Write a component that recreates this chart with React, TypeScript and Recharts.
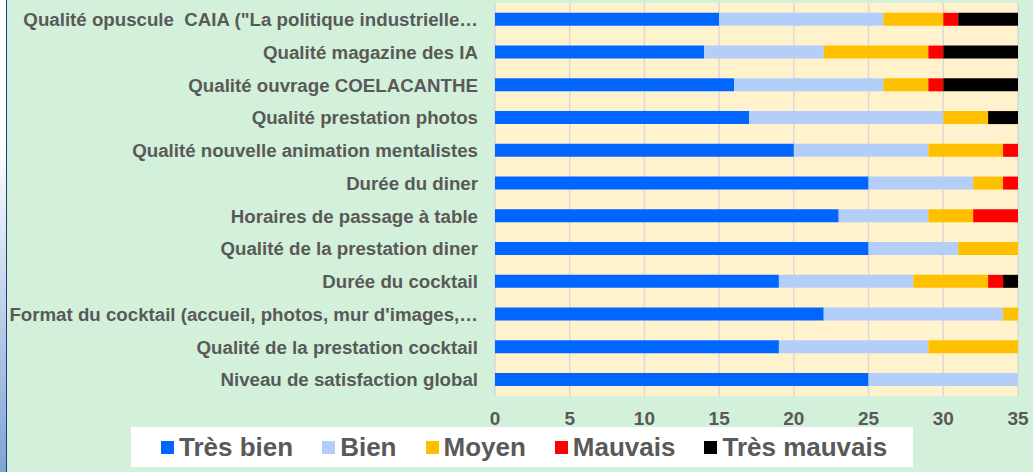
import React from "react";
import { BarChart, Bar, XAxis, YAxis, CartesianGrid } from "recharts";

const categories = [
  'Qualité opuscule \u00A0CAIA ("La politique industrielle…',
  "Qualité magazine des IA",
  "Qualité ouvrage COELACANTHE",
  "Qualité prestation photos",
  "Qualité nouvelle animation mentalistes",
  "Durée du diner",
  "Horaires de passage à table",
  "Qualité de la prestation diner",
  "Durée du cocktail",
  "Format du cocktail (accueil, photos, mur d'images,…",
  "Qualité de la prestation cocktail",
  "Niveau de satisfaction global",
];

const tresBien = [15, 14, 16, 17, 20, 25, 23, 25, 19, 22, 19, 25];
const bien = [11, 8, 10, 13, 9, 7, 6, 6, 9, 12, 10, 10];
const moyen = [4, 7, 3, 3, 5, 2, 3, 4, 5, 1, 6, 0];
const mauvais = [1, 1, 1, 0, 1, 1, 3, 0, 1, 0, 0, 0];
const tresMauvais = [4, 5, 5, 2, 0, 0, 0, 0, 1, 0, 0, 0];

const xTicks = [0, 5, 10, 15, 20, 25, 30, 35];

const series = [
  { key: "tresBien", name: "Très bien", color: "#0066FF", values: tresBien },
  { key: "bien", name: "Bien", color: "#B4CEFA", values: bien },
  { key: "moyen", name: "Moyen", color: "#FFC000", values: moyen },
  { key: "mauvais", name: "Mauvais", color: "#FF0000", values: mauvais },
  { key: "tresMauvais", name: "Très mauvais", color: "#000000", values: tresMauvais },
];

const data = categories.map((name, i) => {
  const row: Record<string, string | number> = { name };
  series.forEach(s => { row[s.key] = s.values[i]; });
  return row;
});

const font = "'Liberation Sans', Arial, sans-serif";
const textGray = "#595959";

export default function App() {
  return (
    <div style={{ position: "absolute", left: 0, top: 0, width: 1033, height: 472, background: "#D3F0DA", overflow: "hidden", fontFamily: font }}>
      {/* left edge strip */}
      <div style={{ position: "absolute", left: 0, top: 0, width: 6, height: 472, background: "linear-gradient(#ffffff 30%, #7FA3D6 100%)" }} />
      <div style={{ position: "absolute", left: 6, top: 0, width: 1, height: 472, background: "#1F3A7A" }} />
      <BarChart
        width={1033}
        height={472}
        data={data}
        layout="vertical"
        margin={{ top: 3, right: 15, bottom: 0, left: 0 }}
        barCategoryGap="30%"
      >
        <CartesianGrid horizontal={false} fill="#FFF2CC" stroke="#D9D9D9" strokeWidth={1.5} />
        <XAxis
          type="number"
          domain={[0, 35]}
          ticks={xTicks}
          interval={0}
          height={76}
          axisLine={false}
          tickLine={false}
          tickSize={0}
          tickMargin={16}
          tick={{ fontSize: 19, fontWeight: 700, fill: textGray, fontFamily: font }}
        />
        <YAxis
          type="category"
          dataKey="name"
          width={495}
          interval={0}
          axisLine={false}
          tickLine={false}
          tickSize={0}
          tickMargin={17}
          tick={{ fontSize: 18.7, fontWeight: 700, fill: textGray, fontFamily: font }}
        />
        {series.map(s => (
          <Bar key={s.key} dataKey={s.key} name={s.name} stackId="a" fill={s.color} isAnimationActive={false} />
        ))}
      </BarChart>
      {/* legend */}
      <div style={{ position: "absolute", left: 131, top: 427, width: 782, height: 40, background: "#ffffff", display: "flex", alignItems: "center", paddingLeft: 30, boxSizing: "border-box", whiteSpace: "nowrap" }}>
        {series.map(s => (
          <div key={s.key} style={{ display: "flex", alignItems: "center", marginRight: 29, flexShrink: 0 }}>
            <span style={{ display: "inline-block", width: 13, height: 13, background: s.color, marginRight: 5 }} />
            <span style={{ fontSize: 26, fontWeight: 700, color: textGray, lineHeight: "26px" }}>{s.name}</span>
          </div>
        ))}
      </div>
    </div>
  );
}
